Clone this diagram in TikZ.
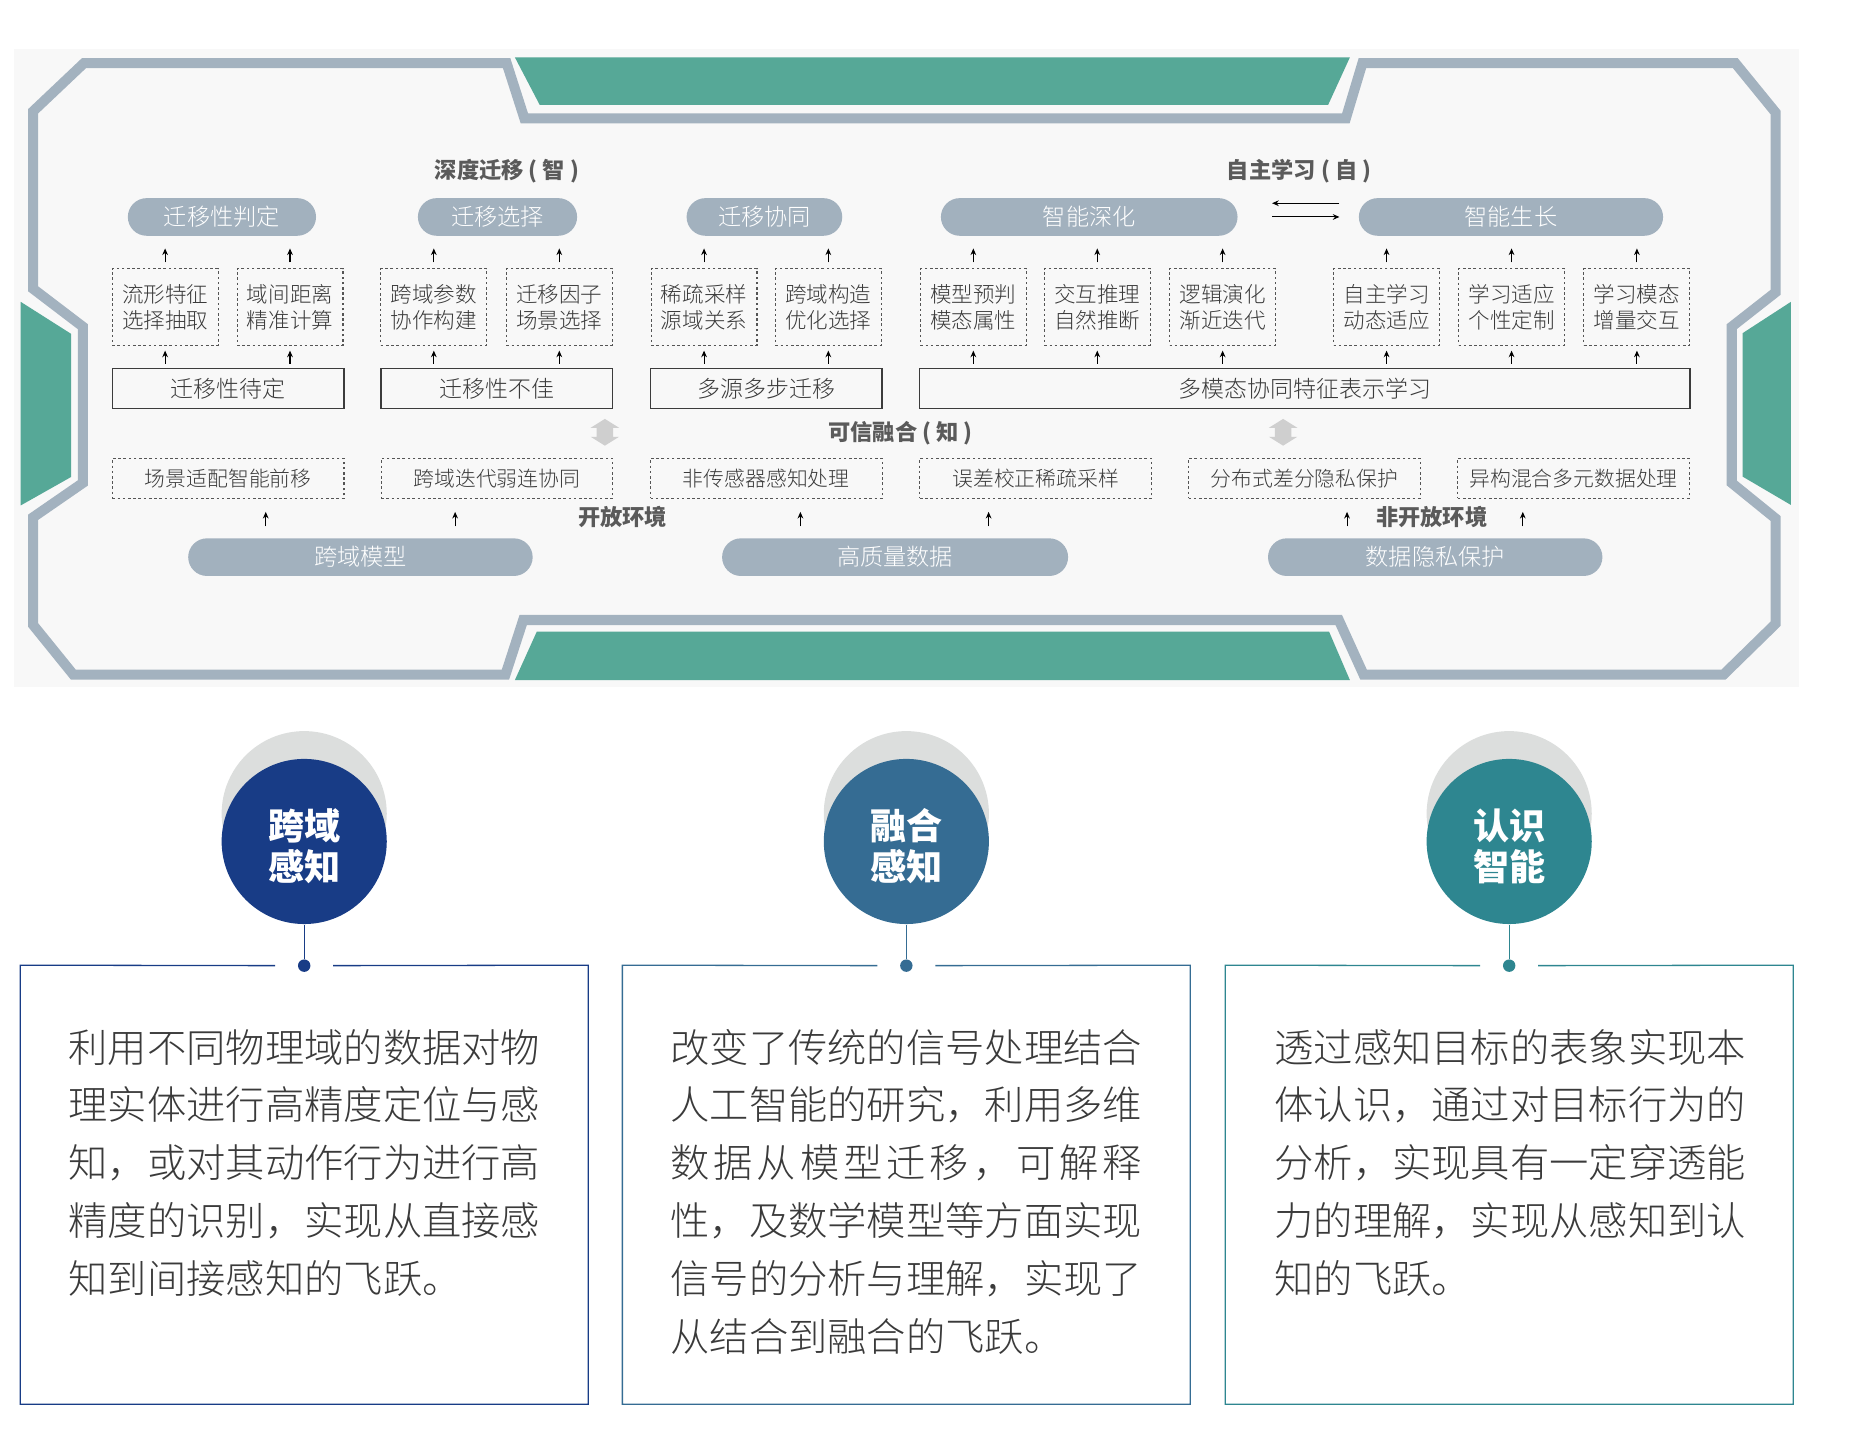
\documentclass[tikz,border=0pt]{standalone}
\usepackage{fontspec}
\setmainfont{Noto Sans CJK SC}
\newfontfamily\thincjk{Noto Sans CJK SC Light}
\usepackage{tikz}
\usetikzlibrary{positioning,calc,arrows.meta}

\definecolor{framec}{HTML}{A3B2BF}
\definecolor{pillc}{HTML}{A2B1BE}
\definecolor{greenc}{HTML}{56A897}
\definecolor{bgc}{HTML}{F8F8F8}
\definecolor{txtc}{HTML}{3A3A3A}
\definecolor{ttlc}{HTML}{5A5A5A}
\definecolor{dashc}{HTML}{555555}
\definecolor{boxc}{HTML}{3C3C3C}
\definecolor{dblc}{HTML}{CFCFCF}
\definecolor{ringc}{HTML}{DCDEDD}
\definecolor{crossc}{HTML}{183C86}
\definecolor{fusec}{HTML}{356C93}
\definecolor{cogc}{HTML}{2E8690}

\begin{document}
\begin{tikzpicture}[x=0.5pt,y=0.5pt,yscale=-1,xscale=1,
  pill/.style={fill=pillc,text=white,rounded corners=7.95pt,minimum height=15.9pt,inner sep=0pt,font=\thincjk\fontsize{9.8pt}{11pt}\selectfont},
  pair/.style={draw=dashc,dash pattern=on 1.1pt off 1.1pt,line width=0.45pt,minimum width=44.75pt,minimum height=32.25pt,inner sep=0pt,align=center,text=txtc,font=\thincjk\fontsize{9.1pt}{11pt}\selectfont},
  frm/.style={draw=boxc,line width=0.6pt,minimum width=97.8pt,minimum height=16.9pt,inner sep=0pt,text=txtc,font=\thincjk\fontsize{9.7pt}{11pt}\selectfont},
  way/.style={draw=dashc,dash pattern=on 1.1pt off 1.1pt,line width=0.45pt,minimum width=97.8pt,minimum height=16.9pt,inner sep=0pt,text=txtc,font=\thincjk\fontsize{8.8pt}{11pt}\selectfont},
  ttl/.style={text=ttlc,inner sep=0pt,font=\bfseries\fontsize{9.4pt}{11pt}\selectfont},
  arr/.style={draw=black,line width=0.45pt,-{Stealth[length=2.8pt,width=2.4pt]}},
  ring/.style={circle,fill=ringc,minimum size=69.75pt,inner sep=0pt},
  disc/.style={circle,minimum size=69.75pt,inner sep=0pt},
  disctext/.style={inner sep=0pt,text=white,align=center,font=\bfseries\fontsize{15.25pt}{17.5pt}\selectfont},
  knob/.style={circle,minimum size=5.25pt,inner sep=0pt},
  panel/.style={minimum width=239.5pt,minimum height=185.1pt,inner sep=0pt},
  body/.style={anchor=north west,align=left,inner sep=0pt,text=txtc,font=\thincjk\fontsize{16.6pt}{24.4pt}\selectfont}]
\useasboundingbox (0,0) rectangle (1568,1230);

%Shape: Rectangle (background of the upper board)
\fill[bgc] (12,41) rectangle (1520,580);

%Shape: Polygon (green bars)
\fill[greenc] (435,48.5) -- (456,88.7) -- (1122,88.7) -- (1140.4,48.5) -- cycle;
\fill[greenc] (453.5,533.6) -- (1122.8,533.6) -- (1140.4,574.5) -- (435,574.5) -- cycle;
\fill[greenc] (17.5,255) -- (60,282) -- (60,403) -- (17.5,427) -- cycle;
\fill[greenc] (1513,255) -- (1472.3,281.4) -- (1472.3,402.7) -- (1513,426.6) -- cycle;

%Shape: Polygon (frame)
\draw[framec,line width=4.25pt] (71,53.3) -- (428,53.3) -- (443,100) -- (1137,100) -- (1151,53.3) -- (1466,53.3) -- (1500,95) -- (1500,247) -- (1463,276) -- (1463,408) -- (1500,438) -- (1500,527) -- (1456,570) -- (1152,570) -- (1131,523.8) -- (442,523.8) -- (427,570) -- (62,570) -- (28,528) -- (28,437) -- (70,408) -- (70,276) -- (28,244) -- (28,94) -- cycle;

% Text Node
\node (deep) at (428.3,145) [ttl] {深度迁移 ( 智 )};
% Text Node
\node (self) at (1097.5,145) [ttl] {自主学习 ( 自 )};

% top pills
\node (p1) at (187.5,183.3) [pill,minimum width=79.5pt] {迁移性判定};
\node (p2) at (420.3,183.3) [pill,minimum width=67.25pt] {迁移选择};
\node (p3) at (645.8,183.3) [pill,minimum width=65.75pt] {迁移协同};
\node (p4) at (920.2,183.3) [pill,minimum width=125.3pt] {智能深化};
\node (p5) at (1276.5,183.3) [pill,minimum width=128.5pt] {智能生长};

% dashed pairs
\node (d1) at (139.5,259.3) [pair] {流形特征\\选择抽取};
\node (d2) at (245,259.3) [pair] {域间距离\\精准计算};
\node (d3) at (366.5,259.3) [pair] {跨域参数\\协作构建};
\node (d4) at (472.5,259.3) [pair] {迁移因子\\场景选择};
\node (d5) at (594.8,259.3) [pair] {稀疏采样\\源域关系};
\node (d6) at (699.8,259.3) [pair] {跨域构造\\优化选择};
\node (d7) at (822.3,259.3) [pair] {模型预判\\模态属性};
\node (d8) at (927,259.3) [pair] {交互推理\\自然推断};
\node (d9) at (1032.9,259.3) [pair] {逻辑演化\\渐近迭代};
\node (d10) at (1171.4,259.3) [pair] {自主学习\\动态适应};
\node (d11) at (1277,259.3) [pair] {学习适应\\个性定制};
\node (d12) at (1382.9,259.3) [pair] {学习模态\\增量交互};

% solid boxes
\node (s1) at (192.8,328.1) [frm] {迁移性待定};
\node (s2) at (419.8,328.1) [frm] {迁移性不佳};
\node (s3) at (647.4,328.1) [frm] {多源多步迁移};
\node (s4) at (1102.4,328.1) [frm,minimum width=325.4pt] {多模态协同特征表示学习};

% Text Node
\node (trust) at (760.7,366) [ttl] {可信融合 ( 知 )};

%Shape: Up Down Arrow
\foreach \cx in {511,1084}
  \fill[dblc,shift={(\cx,365.2)}] (0,-11.3) -- (12,-3.8) -- (7,-3.8) -- (7,3.8) -- (12,3.8) -- (0,11.3) -- (-12,3.8) -- (-7,3.8) -- (-7,-3.8) -- (-12,-3.8) -- cycle;

% dashed single boxes
\node (e1) at (192.8,404.1) [way] {场景适配智能前移};
\node (e2) at (419.8,404.1) [way] {跨域迭代弱连协同};
\node (e3) at (647.4,404.1) [way] {非传感器感知处理};
\node (e4) at (875,404.1) [way] {误差校正稀疏采样};
\node (e5) at (1102,404.1) [way] {分布式差分隐私保护};
\node (e6) at (1329.4,404.1) [way] {异构混合多元数据处理};

% Text Node
\node (open) at (526,436.5) [ttl] {开放环境};
% Text Node
\node (closed) at (1209.5,436.5) [ttl] {非开放环境};

% bottom pills
\node (b1) at (304.5,470.7) [pill,minimum width=145.5pt] {跨域模型};
\node (b2) at (756.2,470.7) [pill,minimum width=146.15pt] {高质量数据};
\node (b3) at (1212.5,470.7) [pill,minimum width=141.25pt] {数据隐私保护};

% arrows
\foreach \d/\p in {d1/p1,d2/p1,d3/p2,d4/p2,d5/p3,d6/p3,d7/p4,d8/p4,d9/p4,d10/p5,d11/p5,d12/p5}
  \draw[arr,shorten <=2.5pt,shorten >=5.15pt] (\d.north) -- (\d.north |- \p.south);
\foreach \s/\d in {s1/d1,s1/d2,s2/d3,s2/d4,s3/d5,s3/d6,s4/d7,s4/d8,s4/d9,s4/d10,s4/d11,s4/d12}
  \draw[arr,shorten <=1.6pt,shorten >=2.1pt] (\d.south |- \s.north) -- (\d.south);

\coordinate (a1) at ($(b1.north)+(-80,0)$);
\coordinate (a2) at ($(b1.north)+(80,0)$);
\coordinate (a3) at ($(b2.north)+(-80,0)$);
\coordinate (a4) at ($(b2.north)+(79,0)$);
\coordinate (a5) at ($(b3.north)+(-74.5,0)$);
\coordinate (a6) at ($(b3.north)+(74,0)$);
\foreach \a in {a1,a2,a3,a4,a5,a6}
  \draw[arr,shorten <=4.9pt,shorten >=5.5pt] (\a) -- (\a |- e1.south);

\draw[arr,shorten <=14.4pt,shorten >=8pt] (p4.east) -- (p5.west);
\draw[arr,shorten <=8pt,shorten >=14.4pt] ([yshift=-5.8pt]p5.west) -- ([yshift=-5.8pt]p4.east);

%Shape: Circles
\node (r1) at (257,687.4) [ring] {};
\node (r2) at (765.7,687.4) [ring] {};
\node (r3) at (1275,687.4) [ring] {};
\node (c1) at (257,710.9) [disc,fill=crossc] {};
\node (c2) at (765.7,710.9) [disc,fill=fusec] {};
\node (c3) at (1275,710.9) [disc,fill=cogc] {};
\node (c1t) at (257,715) [disctext] {跨域\\感知};
\node (c2t) at (765.7,715) [disctext] {融合\\感知};
\node (c3t) at (1275,715) [disctext] {认识\\智能};

% dots
\node (k1) at (257,815.8) [knob,fill=crossc] {};
\node (k2) at (765.7,815.8) [knob,fill=fusec] {};
\node (k3) at (1275,815.8) [knob,fill=cogc] {};
\draw[crossc,line width=0.5pt] (c1) -- (k1);
\draw[fusec,line width=0.5pt] (c2) -- (k2);
\draw[cogc,line width=0.5pt] (c3) -- (k3);

% panels
\node (f1) at (257,1000.9) [panel] {};
\node (f2) at (765.7,1000.9) [panel] {};
\node (f3) at (1275,1000.9) [panel] {};
\draw[crossc,line width=0.55pt] ($(k1)+(-24.5,0)$) -- (f1.north west) -- (f1.south west) -- (f1.south east) -- (f1.north east) -- ($(k1)+(24.5,0)$);
\draw[fusec,line width=0.55pt] ($(k2)+(-24.5,0)$) -- (f2.north west) -- (f2.south west) -- (f2.south east) -- (f2.north east) -- ($(k2)+(24.5,0)$);
\draw[cogc,line width=0.55pt] ($(k3)+(-24.5,0)$) -- (f3.north west) -- (f3.south west) -- (f3.south east) -- (f3.north east) -- ($(k3)+(24.5,0)$);

% Text Node
\node (x1) at (57.6,869) [body] {利用不同物理域的数据对物\\理实体进行高精度定位与感\\知，或对其动作行为进行高\\精度的识别，实现从直接感\\知到间接感知的飞跃。};
% Text Node
\node (x2) at (566,869) [body] {改变了传统的信号处理结合\\人工智能的研究，利用多维\\\makebox[199.2pt][l]{数\hfill 据\hfill 从\hfill 模\hfill 型\hfill 迁\hfill 移\hfill ，\hfill 可\hfill 解\hfill 释}\\性，及数学模型等方面实现\\信号的分析与理解，实现了\\从结合到融合的飞跃。};
% Text Node
\node (x3) at (1076.3,869) [body] {透过感知目标的表象实现本\\体认识，通过对目标行为的\\分析，实现具有一定穿透能\\力的理解，实现从感知到认\\知的飞跃。};

\end{tikzpicture}
\end{document}
